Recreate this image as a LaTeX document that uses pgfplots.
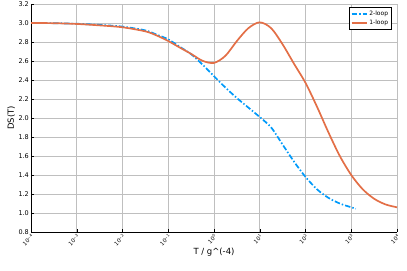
\documentclass[border=0pt]{standalone}
\usepackage{pgfplots}
\pgfplotsset{compat=1.18}
\usepackage{fontspec}
\setmainfont{DejaVu Sans}
\definecolor{jblue}{HTML}{009AFA}
\definecolor{jorange}{HTML}{E36F47}
\begin{document}
\begin{tikzpicture}[x=1bp,y=1bp]
\begin{axis}[
    at={(0,0)}, anchor=south west,
    scale only axis,
    width=366bp, height=228bp,
    xmin=-4, xmax=4,
    ymin=0.8, ymax=3.2,
    xtick={-4,-3,-2,-1,0,1,2,3,4},
    xticklabels={10\textsuperscript{−4},10\textsuperscript{−3},10\textsuperscript{−2},10\textsuperscript{−1},10\textsuperscript{0},10\textsuperscript{1},10\textsuperscript{2},10\textsuperscript{3},10\textsuperscript{4}},
    ytick={0.8,1.0,...,3.2},
    xticklabel style={rotate=45, anchor=north east, font=\fontsize{5.5}{6}\selectfont, inner sep=1bp},
    yticklabel style={font=\fontsize{6.5}{7}\selectfont, inner sep=2bp,
        /pgf/number format/.cd, fixed, fixed zerofill, precision=1, assume math mode=true},
    xlabel={T / g\textasciicircum(-4)},
    ylabel={DS(T)},
    label style={font=\fontsize{8.5}{10}\selectfont},
    xlabel style={yshift=3bp},
    ylabel style={yshift=-2bp},
    axis lines=left,
    axis line style={-, black, line width=0.8bp},
    tick align=inside,
    major tick length=3bp,
    tick style={black, line width=0.5bp},
    grid=major,
    major grid style={black!25, line width=0.6bp},
    legend style={at={(rel axis cs:0.986,0.986)}, anchor=north east,
        font=\fontsize{6}{7}\selectfont, draw=black, line width=0.6bp,
        inner sep=1.5bp, row sep=-1bp},
    legend cell align=left,
    legend image code/.code={\draw[#1, line width=1.6bp] (0bp,0bp) -- (15bp,0bp);},
]
% 2-loop
\addplot[color=jblue, line width=1.7bp, smooth,
    dash pattern=on 5.5bp off 2bp on 1.5bp off 2bp] coordinates {
    (-4,3.000) (-3.5,2.998) (-3,2.992) (-2.5,2.980) (-2,2.962) (-1.5,2.922)
    (-1.25,2.877) (-1,2.828) (-0.75,2.750) (-0.5,2.672) (-0.25,2.562)
    (0,2.440) (0.25,2.320) (0.5,2.210) (0.75,2.110) (1,2.010) (1.25,1.900)
    (1.5,1.720) (1.75,1.540) (2,1.380) (2.25,1.250) (2.5,1.160) (2.75,1.100)
    (3,1.060) (3.1,1.045)
};
% 1-loop
\addplot[color=jorange, line width=1.7bp, smooth] coordinates {
    (-4,3.000) (-3.5,2.998) (-3,2.990) (-2.5,2.975) (-2,2.955) (-1.5,2.912)
    (-1.25,2.868) (-1,2.810) (-0.75,2.742) (-0.5,2.675) (-0.25,2.602)
    (0,2.580) (0.25,2.655) (0.5,2.810) (0.75,2.945) (1,3.007) (1.25,2.945)
    (1.5,2.775) (1.75,2.570) (2,2.370) (2.25,2.120) (2.5,1.850)
    (2.75,1.600) (3,1.400) (3.25,1.250) (3.5,1.150) (3.75,1.090) (4,1.060)
};
\legend{2-loop, 1-loop}
\end{axis}
\pgfresetboundingbox
\path[use as bounding box] (-31bp,-39bp) rectangle (376bp,232bp);
\end{tikzpicture}
\end{document}
